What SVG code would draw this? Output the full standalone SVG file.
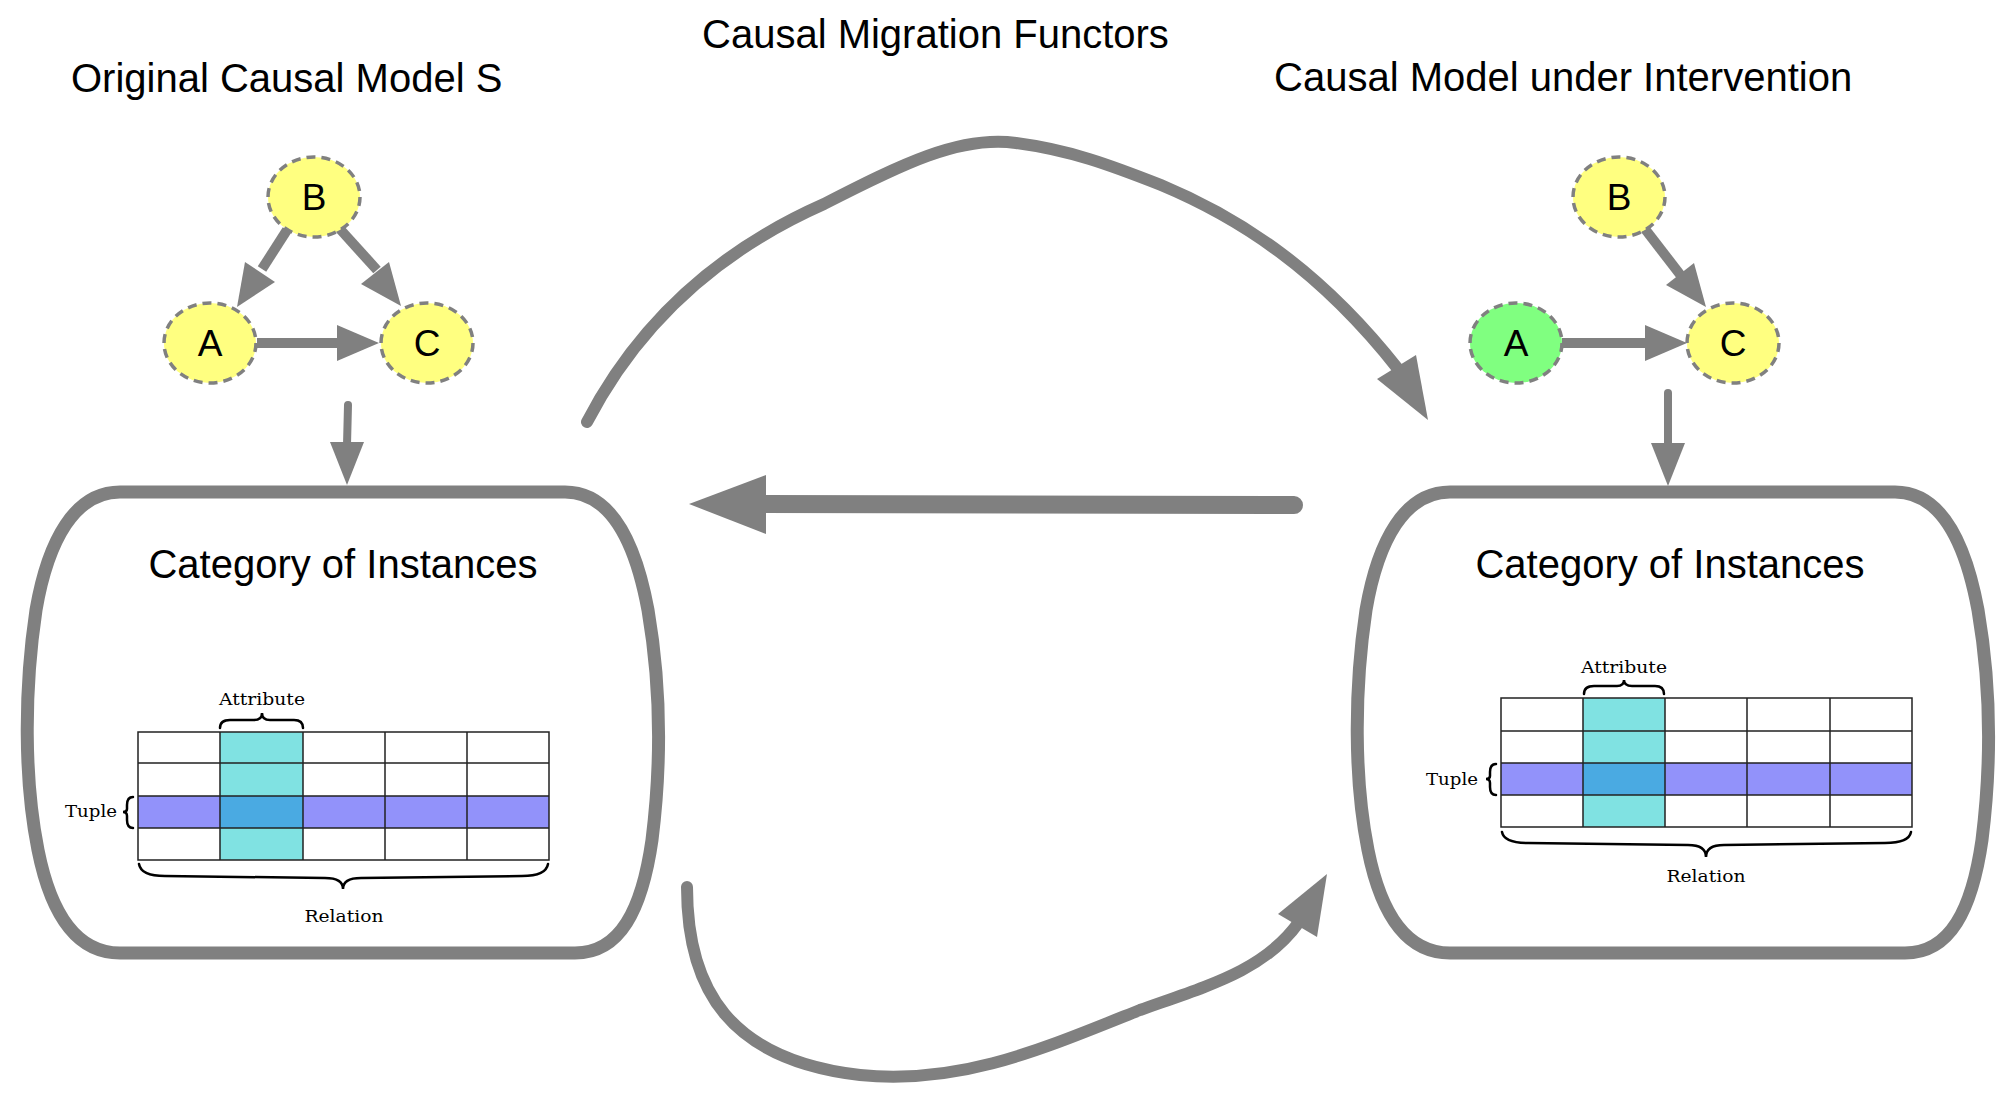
<svg xmlns="http://www.w3.org/2000/svg" width="2015" height="1100" viewBox="0 0 2015 1100">
<style>
.title{font-family:"Liberation Sans",Arial,sans-serif;font-size:40px;fill:#000}
.lbl{font-family:"Liberation Sans",Arial,sans-serif;font-size:37px;fill:#000;text-anchor:middle}
.ser{font-family:"DejaVu Serif","Liberation Serif",serif;font-size:17px;fill:#000}
.node{stroke:#808080;stroke-width:3.5;stroke-dasharray:9 6}
.ln{stroke:#808080;fill:none}
.hd{fill:#808080}
.box{fill:none;stroke:#808080;stroke-width:13}
.grid{stroke:#222;stroke-width:1.5;fill:none}
.br{stroke:#000;fill:none;stroke-width:2.5;stroke-linecap:round}
</style>
<rect width="2015" height="1100" fill="#fff"/>
<text class="title" x="71" y="92">Original Causal Model S</text>
<text class="title" x="702" y="48">Causal Migration Functors</text>
<text class="title" x="1274" y="91">Causal Model under Intervention</text>

<g id="connectors">
<line class="ln" x1="287" y1="230" x2="262" y2="269" stroke-width="10"/><polygon class="hd" points="237,307 275,282 245,262"/>
<line class="ln" x1="339" y1="228" x2="377" y2="270" stroke-width="10"/><polygon class="hd" points="401,306 389,262 361,284"/>
<line class="ln" x1="257" y1="343" x2="340" y2="343" stroke-width="10"/><polygon class="hd" points="379,343 337,325 337,361"/>
<line class="ln" x1="348" y1="405" x2="347" y2="445" stroke-width="8" stroke-linecap="round"/><polygon class="hd" points="347,485 330,442 364,442"/>
<line class="ln" x1="1645" y1="229" x2="1682" y2="277" stroke-width="10"/><polygon class="hd" points="1706,307 1694,263 1666,285"/>
<line class="ln" x1="1562" y1="343" x2="1648" y2="343" stroke-width="10"/><polygon class="hd" points="1687,343 1645,325 1645,361"/>
<line class="ln" x1="1668" y1="393" x2="1668" y2="446" stroke-width="8" stroke-linecap="round"/><polygon class="hd" points="1668,486 1651,443 1685,443"/>
<path class="ln" d="M587,422 C640,320 720,250 824,204 C900,165 960,135 1016,143 C1070,150 1110,165 1161,185 C1240,218 1320,270 1398,369" stroke-width="12" stroke-linecap="round"/>
<polygon class="hd" points="1428,420 1377,379 1416,355"/>
<line class="ln" x1="1294" y1="505" x2="760" y2="504" stroke-width="18" stroke-linecap="round"/>
<polygon class="hd" points="689,504 766,475 766,534"/>
<path class="ln" d="M687,887 C687,990 730,1060 860,1075 C960,1085 1040,1050 1140,1010 C1210,985 1265,970 1299,922" stroke-width="12" stroke-linecap="round"/>
<polygon class="hd" points="1327,874 1278,914 1317,937"/>
</g>

<g id="nodeB1"><ellipse class="node" cx="314" cy="197" rx="46" ry="40" fill="#ffff80"/><text class="lbl" x="314" y="210">B</text></g>
<g id="nodeA1"><ellipse class="node" cx="210" cy="343" rx="46" ry="40" fill="#ffff80"/><text class="lbl" x="210" y="356">A</text></g>
<g id="nodeC1"><ellipse class="node" cx="427" cy="343" rx="46" ry="40" fill="#ffff80"/><text class="lbl" x="427" y="356">C</text></g>
<g id="nodeB2"><ellipse class="node" cx="1619" cy="197" rx="46" ry="40" fill="#ffff80"/><text class="lbl" x="1619" y="210">B</text></g>
<g id="nodeA2"><ellipse class="node" cx="1516" cy="343" rx="46" ry="40" fill="#80ff80"/><text class="lbl" x="1516" y="356">A</text></g>
<g id="nodeC2"><ellipse class="node" cx="1733" cy="343" rx="46" ry="40" fill="#ffff80"/><text class="lbl" x="1733" y="356">C</text></g>

<g id="instances1">
<path class="box" d="M120,492 L565,492 C610,492 635,540 648,610 C660,680 662,760 652,840 C642,910 620,953 575,953 L120,953 C80,953 52,920 38,850 C24,780 24,690 36,610 C48,540 75,492 120,492 Z"/>
<text class="title" x="343" y="578" text-anchor="middle">Category of Instances</text>
<rect x="220" y="732" width="83" height="128" fill="#80e2e2"/>
<rect x="138" y="796" width="411" height="32" fill="#9292fa"/>
<rect x="220" y="796" width="83" height="32" fill="#4aaae2"/>
<path class="grid" d="M138,732H549V860H138Z M138,763H549 M138,796H549 M138,828H549 M220,732V860 M303,732V860 M385,732V860 M467,732V860"/>
<text class="ser" x="262" y="705" text-anchor="middle" textLength="86" lengthAdjust="spacingAndGlyphs">Attribute</text>
<path class="br" d="M220,728 Q220,720 230,720 L254,720 Q262,720 262,713 Q262,720 270,720 L294,720 Q303,720 303,728"/>
<text class="ser" x="65" y="817" textLength="52" lengthAdjust="spacingAndGlyphs">Tuple</text>
<path class="br" d="M133,797 Q127,797 127,805 L127,809 Q127,812 123,812 Q127,812 127,816 L127,820 Q127,828 133,828"/>
<path class="br" stroke-width="4" d="M139,864 Q141,876 165,876 L325,878 Q343,878 343,889 Q343,878 361,878 L522,876 Q546,876 548,864"/>
<text class="ser" x="344" y="922" text-anchor="middle" textLength="79" lengthAdjust="spacingAndGlyphs">Relation</text>
</g>

<g id="instances2">
<path class="box" transform="translate(1330,0)" d="M120,492 L565,492 C610,492 635,540 648,610 C660,680 662,760 652,840 C642,910 620,953 575,953 L120,953 C80,953 52,920 38,850 C24,780 24,690 36,610 C48,540 75,492 120,492 Z"/>
<text class="title" x="1670" y="578" text-anchor="middle">Category of Instances</text>
<rect x="1583" y="698" width="82" height="129" fill="#80e2e2"/>
<rect x="1501" y="763" width="411" height="32" fill="#9292fa"/>
<rect x="1583" y="763" width="82" height="32" fill="#4aaae2"/>
<path class="grid" d="M1501,698H1912V827H1501Z M1501,731H1912 M1501,763H1912 M1501,795H1912 M1583,698V827 M1665,698V827 M1747,698V827 M1830,698V827"/>
<text class="ser" x="1624" y="673" text-anchor="middle" textLength="86" lengthAdjust="spacingAndGlyphs">Attribute</text>
<path class="br" d="M1584,694 Q1584,686 1594,686 L1617,686 Q1624,686 1624,680 Q1624,686 1632,686 L1655,686 Q1664,686 1664,694"/>
<text class="ser" x="1426" y="785" textLength="52" lengthAdjust="spacingAndGlyphs">Tuple</text>
<path class="br" d="M1496,764 Q1490,764 1490,772 L1490,776 Q1490,779 1486,779 Q1490,779 1490,783 L1490,787 Q1490,795 1496,795"/>
<path class="br" stroke-width="4" d="M1502,832 Q1504,843 1528,843 L1688,845 Q1706,845 1706,857 Q1706,845 1724,845 L1885,843 Q1909,843 1911,832"/>
<text class="ser" x="1706" y="882" text-anchor="middle" textLength="79" lengthAdjust="spacingAndGlyphs">Relation</text>
</g>
</svg>
